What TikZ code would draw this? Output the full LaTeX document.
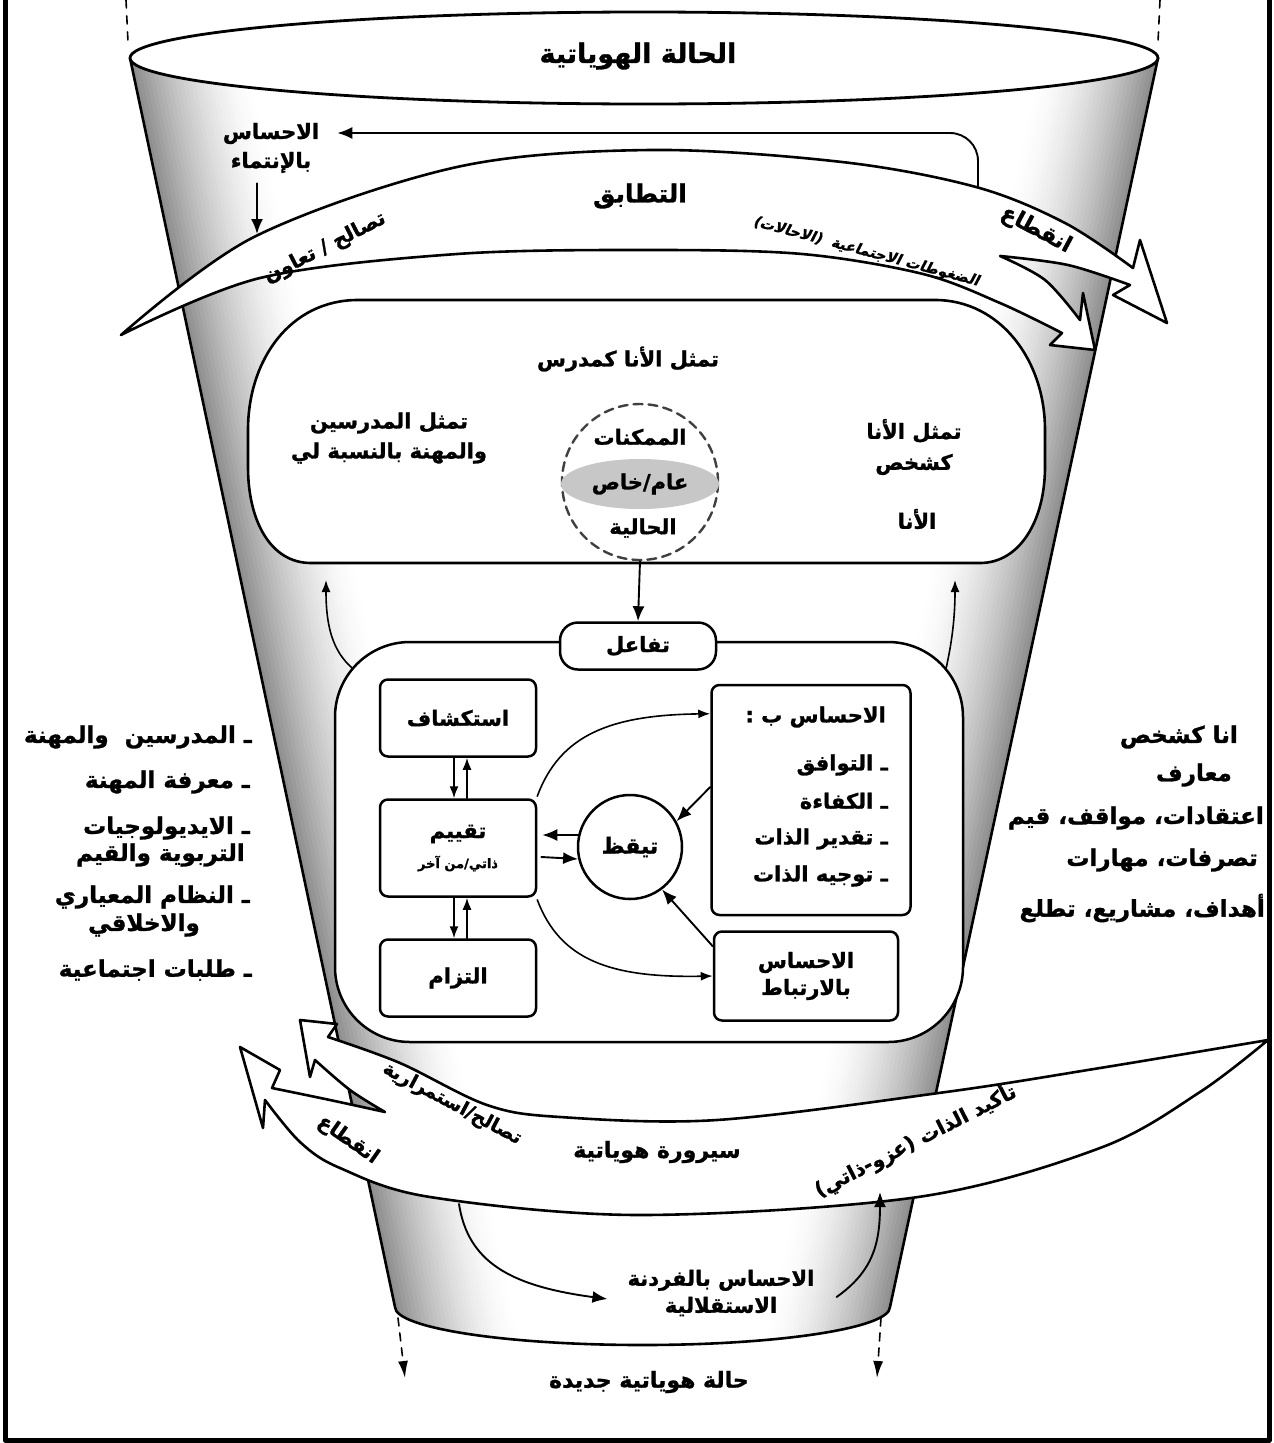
\documentclass[tikz,border=0pt]{standalone}
\usepackage{fontspec}
\usetikzlibrary{arrows.meta,shapes.geometric}
\newfontfamily\arabicfont[Script=Arabic,BoldFeatures={FakeBold=1.2}]{DejaVu Sans}
\newfontfamily\arabicslanted[Script=Arabic,FakeSlant=0.22,BoldFeatures={FakeBold=1}]{DejaVu Sans}
\TeXXeTstate=1
\newcommand\artx[1]{\beginR#1\endR}
\newcommand\fsz[2]{\fontsize{#1}{#2}\selectfont}

\tikzset{
  lbl/.style={inner sep=0pt, align=center, font=\arabicfont\bfseries\fsz{21}{28}},
  lst/.style={inner sep=0pt, align=right, font=\arabicfont\bfseries\fsz{23}{28}},
  inlst/.style={inner sep=0pt, align=right, font=\arabicfont\bfseries\fsz{21}{26}},
  band/.style={draw, line width=2.6pt, fill=white, line join=round},
  box/.style={draw, line width=2.5pt, fill=white, rounded corners=8pt},
  arr/.style={line width=1.9pt, -{Latex[length=15pt,width=12pt]}},
  arrs/.style={line width=1.6pt, -{Latex[length=12pt,width=9pt]}},
}

\begin{document}
\begin{tikzpicture}[x=1pt,y=-1pt,line cap=round,line join=round]
\useasboundingbox (0,0) rectangle (1274,1443);
\fill[white] (0,0) rectangle (1274,1443);

% ---------- funnel body ----------
\coordinate (ftl) at (130,58);
\coordinate (ftr) at (1158,58);
\coordinate (fbl) at (395,1307);
\coordinate (fbr) at (890,1307);
\fill[white] (ftl) -- (fbl) arc[start angle=180,end angle=360,x radius=247.5pt,y radius=38pt] -- (ftr) -- cycle;
\begin{scope}
  \clip (ftl) -- (fbl) arc[start angle=180,end angle=360,x radius=247.5pt,y radius=38pt] -- (ftr) -- cycle;
  \foreach \k in {0,...,29}{
    \pgfmathsetmacro\shadeval{44*(1-\k/30)^1.7}
    \fill[black!\shadeval] ({117.7+4*\k},0) -- ({122.3+4*\k},0) -- ({419.3+4*\k},1400) -- ({414.7+4*\k},1400) -- cycle;
    \fill[black!\shadeval] ({1170.4-4*\k},0) -- ({1165.8-4*\k},0) -- ({865.4-4*\k},1400) -- ({870-4*\k},1400) -- cycle;
  }
\end{scope}
\draw[line width=2.6pt] (ftl) -- (fbl) arc[start angle=180,end angle=360,x radius=247.5pt,y radius=38pt] -- (ftr);
\draw[line width=1.6pt, dash pattern=on 8pt off 8pt] (126,0) -- (128,42);
\draw[line width=1.6pt, dash pattern=on 8pt off 8pt] (1160,0) -- (1158,42);
\coordinate (dl0) at (398,1318); \coordinate (dl1) at (405,1378);
\coordinate (dr0) at (881,1318); \coordinate (dr1) at (877,1378);
\draw[line width=1.6pt, dash pattern=on 8pt off 7pt, -{Latex[length=17pt,width=10pt]}] (dl0) -- (dl1);
\draw[line width=1.6pt, dash pattern=on 8pt off 7pt, -{Latex[length=17pt,width=10pt]}] (dr0) -- (dr1);

% top rim
\draw[line width=2.8pt, fill=white] (644,58) ellipse[x radius=514pt, y radius=46pt];
\node[lbl, font=\arabicfont\bfseries\fsz{27}{30}] (title) at (638,56) {\artx{الحالة الهوياتية}};

% ---------- belonging loop ----------
\node[lbl, font=\arabicfont\bfseries\fsz{21}{29}] (belongtop) at (271,148) {\artx{الاحساس}\\\artx{بالإنتماء}};
\coordinate (loopA) at (978,188);
\draw[arr, rounded corners=28pt] (loopA) |- ([xshift=18pt,yshift=15pt]belongtop.east);
\coordinate (hookA) at (257,234);
\draw[arr] ([xshift=-14pt,yshift=-10pt]belongtop.south) -- (hookA);

% ---------- upper curved band ----------
\draw[band] plot[smooth,tension=.55] coordinates {(121,335) (254,237) (457,167) (650,150) (842,162) (976,187) (1065,223) (1133,268)}
  -- (1140,240) -- (1167,323) -- (1113,295) -- (1130,285)
  -- plot[smooth,tension=.55] coordinates {(1130,285) (1068,265) (1000,256)}
  -- plot[smooth,tension=.55] coordinates {(1000,256) (1045,280) (1080,320)}
  -- (1083,293) -- (1095,350) -- (1050,345) -- (1062,333)
  -- plot[smooth,tension=.55] coordinates {(1062,333) (1000,303) (923,274) (802,254) (650,250) (457,254) (260,278) (121,335)}
  -- cycle;
\node[lbl, font=\arabicfont\bfseries\fsz{25}{28}] (match) at (640,196) {\artx{التطابق}};
\node[lbl, font=\arabicfont\bfseries\fsz{20}{24}, rotate=27] (reconcile) at (325,248) {\artx{تصالح / تعاون}};
\node[lbl, font=\arabicfont\bfseries\fsz{22}{24}, rotate=-28] (breaktop) at (1036,230) {\artx{انقطاع}};
\node[lbl, font=\arabicslanted\bfseries\fsz{14.5}{18}, rotate=-15] (pressure) at (866,252) {\artx{الضغوطات الاجتماعية\ \ (الاحالات)}};

% ---------- representations ----------
\draw[line width=2.6pt, fill=white] (358,300) -- (935,300) .. controls (1000,300) and (1045,360) .. (1045,430) -- (1045,467)
  .. controls (1045,520) and (1020,563) .. (980,563) -- (311,563) .. controls (270,563) and (248,520) .. (248,467)
  -- (248,430) .. controls (248,360) and (290,300) .. (358,300) -- cycle;
\node[lbl] (selfteacher) at (628,359) {\artx{تمثل الأنا كمدرس}};
\node[lbl, font=\arabicfont\bfseries\fsz{21}{30}] (others) at (389,438) {\artx{تمثل المدرسين}\\\artx{والمهنة بالنسبة لي}};
\node[lbl, font=\arabicfont\bfseries\fsz{21}{31}] (selfperson) at (914,447) {\artx{تمثل الأنا}\\\artx{كشخص}};
\node[lbl] (ego) at (917,519) {\artx{الأنا}};
\node[circle, draw=black!75, line width=2.4pt, dash pattern=on 9pt off 6pt, minimum size=156pt] (poss) at (640,482) {};
\node[ellipse, fill=black!22, minimum width=158pt, minimum height=50pt, lbl] (gen) at (640,484) {\artx{عام/خاص}};
\node[lbl] (posstop) at (640,437) {\artx{الممكنات}};
\node[lbl] (posscur) at (643,528) {\artx{الحالية}};

% ---------- interaction ----------
\node[draw, line width=2.5pt, fill=white, rounded corners=75pt, minimum width=628pt, minimum height=400pt] (inter) at (649,842) {};
\coordinate (upL) at (326,580);
\coordinate (upR) at (955,580);
\draw[arrs] ([shift={(18pt,-27pt)}]inter.north west) .. controls (332,650) and (326,625) .. (upL);
\draw[arrs] ([shift={(-18pt,-27pt)}]inter.north east) .. controls (950,650) and (955,625) .. (upR);
\node[box, rounded corners=18pt, minimum width=156pt, minimum height=47pt, lbl] (tab) at (638,646) {\artx{تفاعل}};
\draw[arr] (poss.south) -- (tab.north);

\node[box, minimum width=156pt, minimum height=77pt, lbl] (explore) at (458,718) {\artx{استكشاف}};
\node[box, minimum width=156pt, minimum height=97pt, lbl] (eval) at (458,848) {\artx{تقييم}\\[2pt]{\arabicfont\fsz{13}{16}\artx{ذاتي/من آخر}}};
\node[box, minimum width=156pt, minimum height=77pt, lbl] (commit) at (458,978) {\artx{التزام}};
\node[box, minimum width=199pt, minimum height=230pt] (sense) at (811,800) {};
\node[box, minimum width=184pt, minimum height=89pt, lbl, font=\arabicfont\bfseries\fsz{21}{27}] (bond) at (806,976) {\artx{الاحساس}\\\artx{بالارتباط}};
\node[circle, draw, line width=2.5pt, fill=white, minimum size=104pt, lbl, font=\arabicfont\bfseries\fsz{22}{24}] (alert) at (630,847) {\artx{تيقظ}};

\node[inlst, anchor=east] (s0) at (886,717) {\artx{الاحساس ب :}};
\node[inlst, anchor=east] (s1) at (888,765) {\artx{ـ التوافق}};
\node[inlst, anchor=east] (s2) at (888,801) {\artx{ـ الكفاءة}};
\node[inlst, anchor=east] (s3) at (888,839) {\artx{ـ تقدير الذات}};
\node[inlst, anchor=east] (s4) at (888,876) {\artx{ـ توجيه الذات}};

\draw[arrs] ([xshift=-4pt]explore.south) -- ([xshift=-4pt]eval.north);
\draw[arrs] ([xshift=9pt]eval.north) -- ([xshift=9pt]explore.south);
\draw[arrs] ([xshift=-4pt]eval.south) -- ([xshift=-4pt]commit.north);
\draw[arrs] ([xshift=9pt]commit.north) -- ([xshift=9pt]eval.south);
\draw[arr] (alert.167) -- ([xshift=5pt,yshift=13pt]eval.east);
\draw[arr] ([xshift=4pt,yshift=-9pt]eval.east) -- (alert.193);
\draw[arrs] ([yshift=2pt]eval.north east) .. controls (560,735) and (610,715) .. ([yshift=-30pt]sense.north west);
\draw[arrs] ([yshift=-2pt]eval.south east) .. controls (560,960) and (610,978) .. (bond.west);
\draw[arr] ([yshift=13pt]sense.west) -- (alert.29);
\draw[arr] ([yshift=-16pt]bond.north west) -- (alert.-53);

% ---------- side lists ----------
\node[lst, anchor=east] (l1) at (252,737) {\artx{ـ المدرسين\ \ والمهنة}};
\node[lst, anchor=east] (l2) at (250,782) {\artx{ـ معرفة المهنة}};
\node[lst, anchor=east] (l3) at (250,828) {\artx{ـ الايديولوجيات}};
\node[lst, anchor=east] (l3b) at (245,855) {\artx{التربوية والقيم}};
\node[lst, anchor=east] (l4) at (250,897) {\artx{ـ النظام المعياري}};
\node[lst, anchor=east] (l4b) at (200,925) {\artx{والاخلاقي}};
\node[lst, anchor=east] (l5) at (252,970) {\artx{ـ طلبات اجتماعية}};

\node[lst, anchor=east] (r1) at (1238,737) {\artx{انا كشخص}};
\node[lst, anchor=east] (r2) at (1232,775) {\artx{معارف}};
\node[lst, anchor=east] (r3) at (1264,818) {\artx{اعتقادات، مواقف، قيم}};
\node[lst, anchor=east] (r4) at (1258,860) {\artx{تصرفات، مهارات}};
\node[lst, anchor=east] (r5) at (1265,908) {\artx{أهداف، مشاريع، تطلع}};

% ---------- lower curved band ----------
\draw[band] plot[smooth,tension=.55] coordinates {(1268,1040) (1100,1068) (946,1092) (717,1120) (560,1117) (487,1105) (400,1063) (328,1037)}
  -- (337,1024) -- (300,1020) -- (310,1077) -- (315,1060)
  -- plot[smooth,tension=.55] coordinates {(315,1060) (350,1090) (385,1112)}
  -- plot[smooth,tension=.55] coordinates {(385,1112) (330,1100) (272,1088)}
  -- (280,1070) -- (240,1047) -- (263,1128) -- (265,1100)
  -- plot[smooth,tension=.55] coordinates {(265,1100) (300,1142) (340,1168) (430,1197) (640,1215) (918,1197) (1100,1148) (1200,1092) (1268,1040)}
  -- cycle;
\node[lbl, font=\arabicfont\bfseries\fsz{20}{24}, rotate=-35] (breakbot) at (348,1140) {\artx{انقطاع}};
\node[lbl, font=\arabicfont\bfseries\fsz{19}{24}, rotate=-28] (continuity) at (452,1104) {\artx{تصالح/استمرارية}};
\node[lbl, font=\arabicfont\bfseries\fsz{22}{24}] (process) at (657,1152) {\artx{سيرورة هوياتية}};
\node[lbl, font=\arabicfont\bfseries\fsz{20}{24}, rotate=27] (assert) at (915,1140) {\artx{تأكيد الذات (عزو-ذاتي)}};

% ---------- individuation ----------
\node[lbl, font=\arabicfont\bfseries\fsz{21}{27}] (indiv) at (721,1293) {\artx{الاحساس بالفردنة}\\\artx{الاستقلالية}};
\coordinate (indA) at (459,1204);
\coordinate (indB) at (880,1192);
\draw[arr] (indA) .. controls (468,1262) and (510,1286) .. ([xshift=-20pt,yshift=-6pt]indiv.west);
\draw[arr] ([xshift=22pt,yshift=-4pt]indiv.east) .. controls (872,1272) and (880,1245) .. (indB);

\node[lbl, font=\arabicfont\bfseries\fsz{22}{24}] (newstate) at (649,1382) {\artx{حالة هوياتية جديدة}};

% ---------- frame ----------
\draw[line width=5pt, line cap=butt] (5,0) -- (5,1440) -- (1269,1440) -- (1269,0);
\end{tikzpicture}
\end{document}
